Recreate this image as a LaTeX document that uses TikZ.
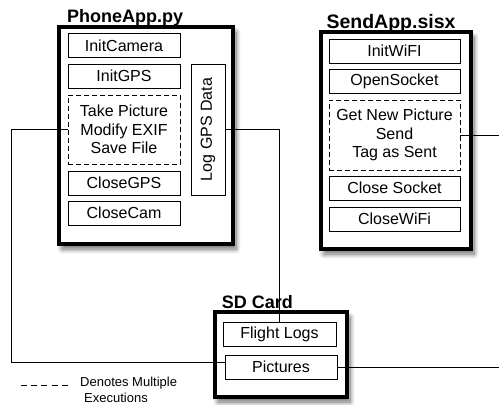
\documentclass[tikz,border=0pt]{standalone}
\usepackage{fontspec}
\setmainfont{Liberation Sans}
\usetikzlibrary{shadows.blur}
\begin{document}
\begin{tikzpicture}[x=1pt,y=-1pt,
  outerbox/.style={draw, line width=3.5pt, fill=white, inner sep=0pt,
    blur shadow={shadow xshift=3pt, shadow yshift=-5pt, shadow blur steps=10,
      shadow blur radius=5pt, shadow opacity=60}},
  stepbox/.style={draw, line width=0.8pt, fill=white, inner sep=0pt,
    minimum height=24pt, font=\fontsize{16}{18.5}\selectfont, align=center},
  multibox/.style={stepbox, dash pattern=on 5pt off 3pt},
  titletext/.style={font=\bfseries\fontsize{18}{20}\selectfont, inner sep=0pt, anchor=base},
  conn/.style={line width=0.8pt},
  legendtext/.style={font=\fontsize{13}{15}\selectfont, inner sep=0pt, anchor=base west},
]
\useasboundingbox (0,0) rectangle (499,405);

% ---------- PhoneApp.py ----------
\node[outerbox, minimum width=174pt, minimum height=217pt] (phone) at (146,135.5) {};
\node[titletext] (phonetitle) at (125,22.5) {PhoneApp.py};
\node[stepbox, minimum width=112pt] (initcam) at (124,45.5) {InitCamera};
\node[stepbox, minimum width=112pt] (initgps) at (124,76) {InitGPS};
\node[multibox, minimum width=112pt, minimum height=69pt] (padash) at (124,129.5)
  {Take Picture\\Modify EXIF\\Save File};
\node[stepbox, minimum width=112pt] (closegps) at (124,183) {CloseGPS};
\node[stepbox, minimum width=112pt] (closecam) at (124,213) {CloseCam};
\node[stepbox, rotate=90, minimum width=131pt, minimum height=34pt] (loggps) at (208,129.5) {Log GPS Data};

% ---------- SendApp.sisx ----------
\node[outerbox, minimum width=150pt, minimum height=217pt] (send) at (396,140.5) {};
\node[titletext, font=\bfseries\fontsize{19.5}{21}\selectfont] (sendtitle) at (391,28) {SendApp.sisx};
\node[stepbox, minimum width=131pt] (initwifi) at (394.5,51) {InitWiFI};
\node[stepbox, minimum width=131pt] (opensock) at (394.5,81) {OpenSocket};
\node[multibox, minimum width=131pt, minimum height=70pt] (sadash) at (394.5,135)
  {Get New Picture\\Send\\Tag as Sent};
\node[stepbox, minimum width=131pt] (closesock) at (394.5,188) {Close Socket};
\node[stepbox, minimum width=131pt] (closewifi) at (394.5,219) {CloseWiFi};

% ---------- SD Card ----------
\node[outerbox, minimum width=132pt, minimum height=85pt] (sd) at (281,354.5) {};
\node[titletext] (sdtitle) at (257.5,308) {SD Card};
\node[stepbox, minimum width=113pt] (flight) at (279.5,334) {Flight Logs};
\node[stepbox, minimum width=112pt] (pics) at (281,367) {Pictures};

% ---------- connectors ----------
\coordinate (rightA) at (499,135);
\coordinate (rightB) at (499,367);
\draw[conn] (padash.west) -- ++(-56,0) |- ([yshift=5pt]pics.west);
\draw[conn] (loggps.south) -| (flight.north);
\draw[conn] (sadash.east) -- (rightA);
\draw[conn] (pics.east) -- (rightB);

% ---------- legend ----------
\coordinate (legA) at (20.5,385);
\coordinate (legB) at (68,385);
\draw[conn, dash pattern=on 6pt off 4.4pt] (legA) -- (legB);
\node[legendtext] (leg1) at (80,386.5) {Denotes Multiple};
\node[legendtext] (leg2) at (84,402) {Executions};
\end{tikzpicture}
\end{document}
